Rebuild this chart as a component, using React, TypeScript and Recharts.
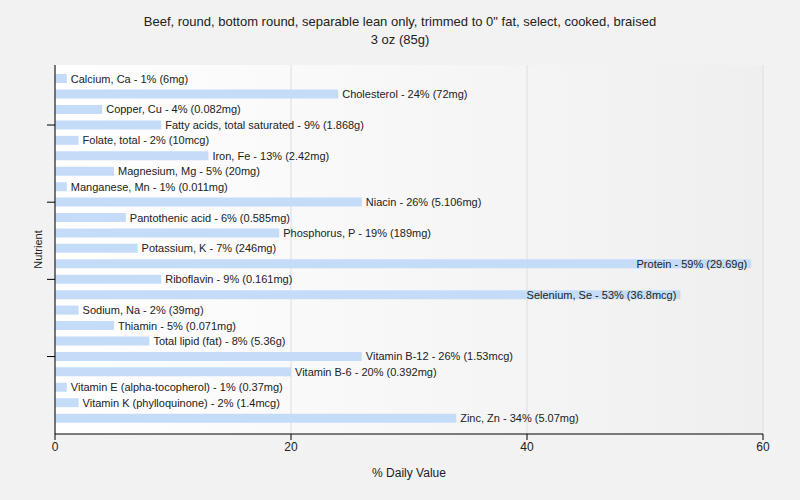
import React from 'react';
import { BarChart, Bar, XAxis, YAxis, CartesianGrid, LabelList } from 'recharts';

document.body.style.margin = '0';

const nutrients = [
  'Calcium, Ca', 'Cholesterol', 'Copper, Cu', 'Fatty acids, total saturated', 'Folate, total',
  'Iron, Fe', 'Magnesium, Mg', 'Manganese, Mn', 'Niacin', 'Pantothenic acid',
  'Phosphorus, P', 'Potassium, K', 'Protein', 'Riboflavin', 'Selenium, Se',
  'Sodium, Na', 'Thiamin', 'Total lipid (fat)', 'Vitamin B-12', 'Vitamin B-6',
  'Vitamin E (alpha-tocopherol)', 'Vitamin K (phylloquinone)', 'Zinc, Zn',
];
const dailyValue = [1, 24, 4, 9, 2, 13, 5, 1, 26, 6, 19, 7, 59, 9, 53, 2, 5, 8, 26, 20, 1, 2, 34];
const amounts = [
  '6mg', '72mg', '0.082mg', '1.868g', '10mcg', '2.42mg', '20mg', '0.011mg', '5.106mg', '0.585mg',
  '189mg', '246mg', '29.69g', '0.161mg', '36.8mcg', '39mg', '0.071mg', '5.36g', '1.53mcg', '0.392mg',
  '0.37mg', '1.4mcg', '5.07mg',
];
const xTicks = [0, 20, 40, 60];
const yTicks = ['Fatty acids, total saturated', 'Niacin', 'Riboflavin', 'Vitamin B-12'];

const data = nutrients.map((name, i) => ({
  name,
  value: dailyValue[i],
  label: `${name} - ${dailyValue[i]}% (${amounts[i]})`,
}));

const FONT = '"Liberation Sans", Arial, sans-serif';

const BarLabel = (props: any) => {
  const { x, y, width, height, index } = props;
  const d = data[index];
  const inside = d.value > 40;
  return (
    <text
      x={inside ? x + width - 4 : x + width + 4}
      y={y + height / 2}
      dy={4}
      textAnchor={inside ? 'end' : 'start'}
      fontSize={11}
      fontFamily={FONT}
      fill="#222"
    >
      {d.label}
    </text>
  );
};

export default function App() {
  return (
    <div style={{ position: 'relative', width: 800, height: 500, background: '#f2f2f2', fontFamily: FONT }}>
      <div style={{ position: 'absolute', top: 13, left: 0, width: 800, textAlign: 'center', fontSize: 13, lineHeight: '18px', color: '#222' }}>
        <div>Beef, round, bottom round, separable lean only, trimmed to 0" fat, select, cooked, braised</div>
        <div>3 oz (85g)</div>
      </div>
      <BarChart
        width={800}
        height={500}
        data={data}
        layout="vertical"
        margin={{ top: 65, right: 37, bottom: 21, left: 0 }}
        barCategoryGap="20%"
        style={{ position: 'absolute', top: 0, left: 0 }}
      >
        <defs>
          <linearGradient id="plotBg" x1="0" y1="0" x2="1" y2="0">
            <stop offset="0%" stopColor="#ffffff" />
            <stop offset="100%" stopColor="#efefef" />
          </linearGradient>
        </defs>
        <CartesianGrid horizontal={false} stroke="#dddddd" fill="url(#plotBg)" />
        <XAxis
          type="number"
          domain={[0, 60]}
          ticks={xTicks}
          stroke="#000"
          tick={{ fill: '#222', fontSize: 12, fontFamily: FONT }}
          tickSize={6}
          height={45}
          label={{ value: '% Daily Value', position: 'insideBottom', offset: 2, fill: '#222', fontSize: 12, fontFamily: FONT }}
        />
        <YAxis
          type="category"
          dataKey="name"
          ticks={yTicks}
          interval={0}
          width={55}
          stroke="#000"
          tickSize={8}
          tick={() => <g />}
          padding={{ top: 6, bottom: 8 }}
          label={(p: any) => {
            const vb = p.viewBox;
            const cx = 42;
            const cy = vb.y + vb.height / 2;
            return (
              <text x={cx} y={cy} transform={`rotate(-90 ${cx} ${cy})`} textAnchor="middle" fontSize={11} fontFamily={FONT} fill="#222">
                Nutrient
              </text>
            );
          }}
        />
        <Bar dataKey="value" fill="#c5dcf8" isAnimationActive={false}>
          <LabelList dataKey="value" content={BarLabel} />
        </Bar>
      </BarChart>
    </div>
  );
}
